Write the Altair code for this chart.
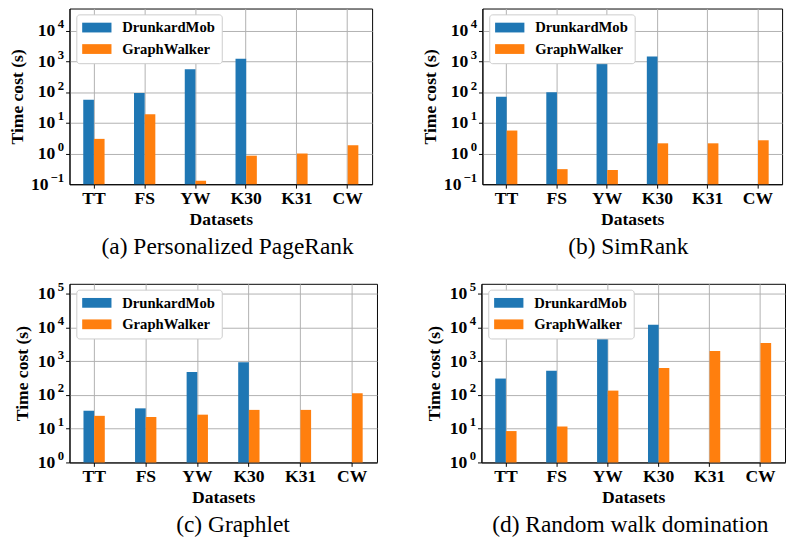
import altair as alt
import pandas as pd

datasets = ["TT", "FS", "YW", "K30", "K31", "CW"]
systems = ["DrunkardMob", "GraphWalker"]
colors = ["#1f77b4", "#ff7f0e"]

ppr_dm = [56, 94, 550, 1210, None, None]
ppr_gw = [3.0, 19, 0.13, 0.85, 1.0, 1.86]
sim_dm = [71, 98, 890, 1450, None, None]
sim_gw = [5.6, 0.31, 0.29, 2.15, 2.15, 2.7]
gl_dm = [34, 40, 475, 930, None, None]
gl_gw = [24, 22, 26, 36, 36, 112]
rwd_dm = [305, 520, 6000, 12000, None, None]
rwd_gw = [8.5, 11.6, 134, 630, 2000, 3450]

captions = ["(a) Personalized PageRank", "(b) SimRank", "(c) Graphlet", "(d) Random walk domination"]
top_ticks = [0.1, 1, 10, 100, 1000, 10000]
bottom_ticks = [1, 10, 100, 1000, 10000, 100000]

SERIF = "'Times New Roman', 'Liberation Serif', Times, 'DejaVu Serif', serif"
EXP = "round(log(datum.value)/LN10)"
exp_expr = "(" + EXP + " < 0 ? '\u2212' + toString(-" + EXP + ") : toString(" + EXP + "))"


def panel(dm, gw, caption, ymin, ymax, ticks, w, h, dx, title_pad):
    rows = []
    for d, a, b in zip(datasets, dm, gw):
        if a is not None:
            rows.append({"Dataset": d, "System": systems[0], "Time": a})
        if b is not None:
            rows.append({"Dataset": d, "System": systems[1], "Time": b})
    df = pd.DataFrame(rows)
    yscale = alt.Scale(type="log", domain=[ymin, ymax], nice=False)
    x = alt.X("Dataset:N", sort=datasets,
              scale=alt.Scale(paddingInner=0.58, paddingOuter=0.271),
              axis=alt.Axis(title="Datasets", labelAngle=0, bandPosition=0.5, grid=True,
                            labelPadding=2, titlePadding=3))
    xo = alt.XOffset("System:N", sort=systems, scale=alt.Scale(paddingInner=0, paddingOuter=0))
    color = alt.Color("System:N",
                      scale=alt.Scale(domain=systems, range=colors),
                      legend=alt.Legend(title=None, orient="none", legendX=7, legendY=6,
                                        symbolType="M-1,-0.667H3V0.667H-1Z", symbolSize=225,
                                        symbolStrokeWidth=0, symbolOpacity=1,
                                        labelFont=SERIF, labelFontWeight="bold",
                                        labelFontSize=15, labelColor="black",
                                        labelOffset=26, rowPadding=6, padding=6,
                                        fillColor="white", strokeColor="#cccccc",
                                        cornerRadius=3))
    pos = [t for t in ticks if t >= 1]
    neg = [t for t in ticks if t < 1]

    def layer(axis, opacity):
        return alt.Chart(df).mark_bar(opacity=opacity).encode(
            x=x, xOffset=xo,
            y=alt.Y("Time:Q", scale=yscale, axis=axis),
            y2=alt.datum(ymin),
            color=color,
        )

    layers = [
        layer(alt.Axis(title="Time cost (s)", values=pos, labelExpr="'10'", orient="left",
                       grid=True, labelPadding=11, titlePadding=title_pad), 1),
        layer(alt.Axis(title=None, values=ticks, labelExpr=exp_expr, orient="left",
                       grid=False, domain=False, ticks=False, labelPadding=6,
                       labelAlign="right", labelFontSize=13, labelOffset=-7), 0),
    ]
    if neg:
        layers.append(layer(alt.Axis(title=None, values=neg, labelExpr="'10'", orient="left",
                                     grid=False, domain=False, ticks=False, labelPadding=22,
                                     labelAlign="right"), 0))
    return alt.layer(*layers).resolve_axis(y="independent").properties(
        width=w, height=h,
        title=alt.TitleParams(caption, orient="bottom", font=SERIF, fontSize=24,
                              fontWeight="normal", color="black", anchor="middle",
                              frame="group", dx=dx, offset=7),
    )


pa = panel(ppr_dm, ppr_gw, captions[0], 0.1, 52500, top_ticks, 310, 180, 7, 11)
pb = panel(sim_dm, sim_gw, captions[1], 0.1, 52500, top_ticks, 307, 180, -4, 11)
pc = panel(gl_dm, gl_gw, captions[2], 1, 195000, bottom_ticks, 315, 183, 10, 6)
pd_ = panel(rwd_dm, rwd_gw, captions[3], 1, 195000, bottom_ticks, 311, 183, -3, 6)

top = alt.hconcat(pa, pb, spacing=49).resolve_scale(color="independent")
bottom = alt.hconcat(pc, pd_, spacing=48).resolve_scale(color="independent")

chart = alt.vconcat(top, bottom, spacing=21).resolve_scale(color="independent").properties(
    padding={"top": -7, "left": 0, "right": 0, "bottom": 0}
).configure_view(
    stroke="black", strokeWidth=1
).configure_axis(
    labelFont=SERIF, labelFontWeight="bold", labelFontSize=18, labelColor="black",
    titleFont=SERIF, titleFontWeight="bold", titleFontSize=18, titleColor="black",
    domainColor="black", tickColor="black", tickSize=4,
    gridColor="#b0b0b0", gridWidth=1,
)

chart.save("out.html", embed_options={"renderer": "svg", "actions": False})
